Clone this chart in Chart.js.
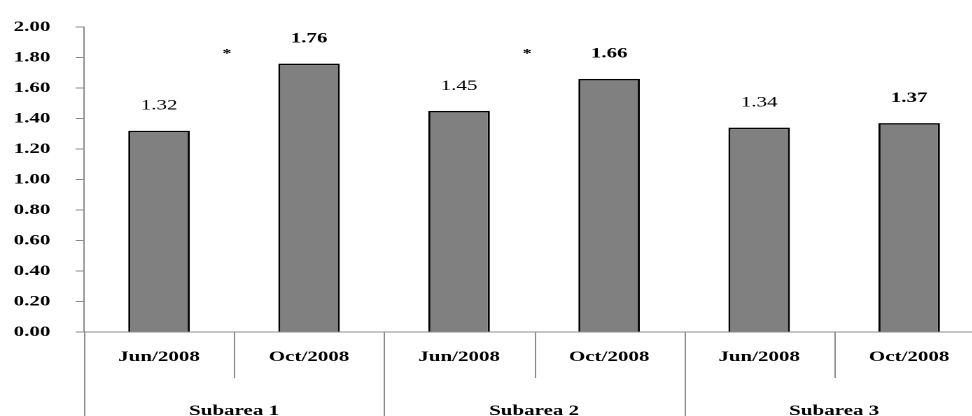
<!DOCTYPE html>
<html>
<head>
<meta charset="utf-8">
<script src="https://cdn.jsdelivr.net/npm/chart.js@4.4.1/dist/chart.umd.min.js"></script>
<style>
  html, body { margin: 0; padding: 0; background: #fff; overflow: hidden; }
  /* the reference is stretched sideways, so draw narrow and widen */
  .wrap { width: 705px; height: 416px; transform: scaleX(1.4); transform-origin: 0 0; }
</style>
</head>
<body>
<div class="wrap"><canvas id="myChart"></canvas></div>
<script>
// ==========================================
// Data
// ==========================================

const periods = ["Jun/2008", "Oct/2008", "Jun/2008", "Oct/2008", "Jun/2008", "Oct/2008"];
const subareas = ["Subarea 1", "Subarea 2", "Subarea 3"];
const values = [1.32, 1.76, 1.45, 1.66, 1.34, 1.37];
const yTicks = [0, 0.2, 0.4, 0.6, 0.8, 1.0, 1.2, 1.4, 1.6, 1.8, 2.0];
// subareas marked with an asterisk, and the height it sits at
const starGroups = [0, 1];
const starLevel = 1.83;

const serif = '"Liberation Serif", "Times New Roman", serif';
const axisGray = "#8c8c8c";

// ==========================================
// Labels, asterisks and the two-level axis
// ==========================================

const decor = {
   id: "decor",
   afterDatasetsDraw(chart) {
      const ctx = chart.ctx;
      const meta = chart.getDatasetMeta(0);
      const x = chart.scales.x, y = chart.scales.y;
      const w = (x.right - x.left) / periods.length;
      ctx.save();
      ctx.fillStyle = "#000";
      ctx.textAlign = "center";
      ctx.textBaseline = "middle";
      meta.data.forEach((bar, i) => {
         ctx.font = (i % 2 ? "bold " : "") + "15px " + serif;
         ctx.fillText(values[i].toFixed(2), bar.x, bar.y - 25);
      });
      ctx.font = "bold 13px " + serif;
      starGroups.forEach(g => {
         let bx = x.left + (g * 2 + 1) * w;
         ctx.fillText("*", bx - 5, y.getPixelForValue(starLevel) + 1);
      });
      ctx.restore();
   },
   afterDraw(chart) {
      const ctx = chart.ctx;
      const x = chart.scales.x;
      const w = (x.right - x.left) / periods.length;
      const top = chart.chartArea.bottom;
      ctx.save();
      ctx.strokeStyle = axisGray;
      ctx.lineWidth = 1;
      for (let i = 0; i <= periods.length; i++) {
         let px = Math.round(x.left + i * w) + 0.5;
         let bottom = i % 2 ? top + 46 : chart.height;
         ctx.beginPath();
         ctx.moveTo(px, top);
         ctx.lineTo(px, bottom);
         ctx.stroke();
      }
      ctx.fillStyle = "#000";
      ctx.font = "bold 15px " + serif;
      ctx.textAlign = "center";
      ctx.textBaseline = "middle";
      subareas.forEach((name, g) => {
         ctx.fillText(name, x.left + (g * 2 + 1) * w, top + 79);
      });
      ctx.restore();
   }
};

// ==========================================
// Chart
// ==========================================

const ctx = document.getElementById("myChart");

let chart = new Chart(ctx, {
   type: "bar",
   data: {
      labels: periods,
      datasets: [{
         data: values,
         backgroundColor: "#808080",
         borderColor: "#000",
         borderWidth: 1.5,
         barPercentage: 0.41,
         categoryPercentage: 1
      }]
   },
   options: {
      responsive: true,
      maintainAspectRatio: false,
      animation: false,
      devicePixelRatio: 2,
      layout: { padding: { top: 23, left: 10, right: 2, bottom: 34 } },
      plugins: { legend: { display: false }, tooltip: { enabled: false } },
      scales: {
         x: {
            offset: true,
            grid: { display: false, drawTicks: false },
            border: { color: axisGray, width: 1 },
            ticks: {
               padding: 16,
               color: "#000",
               maxRotation: 0,
               font: { family: serif, size: 15, weight: "bold" }
            }
         },
         y: {
            min: 0,
            max: 2,
            afterBuildTicks: scale => { scale.ticks = yTicks.map(v => ({ value: v })); },
            afterFit: scale => { scale.width = 50; },
            grid: { drawOnChartArea: false, tickLength: 6, color: axisGray },
            border: { color: axisGray, width: 1 },
            ticks: {
               padding: 18,
               color: "#000",
               font: { family: serif, size: 15, weight: "bold" },
               callback: v => Number(v).toFixed(2)
            }
         }
      }
   },
   plugins: [decor]
});
</script>
</body>
</html>
